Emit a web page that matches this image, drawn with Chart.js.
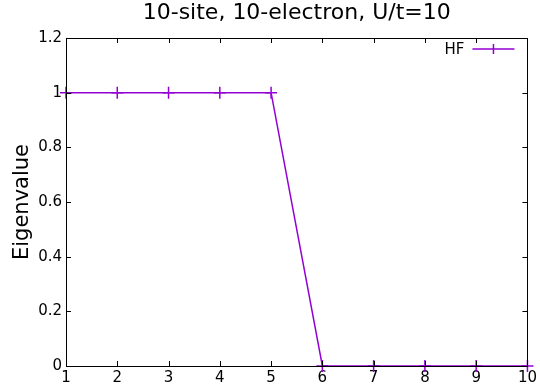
<!DOCTYPE html>
<html><head><meta charset="utf-8">
<script src="https://cdn.jsdelivr.net/npm/chart.js@4/dist/chart.umd.min.js"></script>
<style>html,body{margin:0;padding:0;background:#fff}#w{width:540px;height:391px}</style>
</head><body><div id="w"><canvas id="c" width="540" height="391"></canvas></div>
<script>
const sites = [1,2,3,4,5,6,7,8,9,10];
const hfValues = [1,1,1,1,1,0,0,0,0,0];
const yTicks = [0,0.2,0.4,0.6,0.8,1,1.2];
const seriesLabel = 'HF';
const titleText = '10-site, 10-electron, U/t=10';
const yTitle = 'Eigenvalue';
const color = '#9400d3';
const FONT = "'DejaVu Sans', sans-serif";

const frame = {
  id:'frame',
  afterDraw(chart){
    const {ctx, chartArea:a, scales:{x,y}} = chart;
    ctx.save();
    ctx.strokeStyle='#000'; ctx.lineWidth=1;
    ctx.strokeRect(Math.round(a.left)+0.5, Math.round(a.top)+0.5, Math.round(a.right-a.left), Math.round(a.bottom-a.top));
    ctx.beginPath();
    sites.forEach(v=>{const p=Math.round(x.getPixelForValue(v))+0.5;
      ctx.moveTo(p,a.bottom); ctx.lineTo(p,a.bottom-5);
      ctx.moveTo(p,a.top); ctx.lineTo(p,a.top+5);});
    yTicks.forEach(v=>{const p=Math.round(y.getPixelForValue(v))+0.5;
      ctx.moveTo(a.left,p); ctx.lineTo(a.left+5,p);
      ctx.moveTo(a.right,p); ctx.lineTo(a.right-5,p);});
    ctx.stroke();
    // legend
    const ly = a.top+11, lx1 = a.right-55, lx2 = a.right-13;
    ctx.fillStyle='#000'; ctx.font='15px '+FONT; ctx.textAlign='right'; ctx.textBaseline='middle';
    ctx.fillText(chart.data.datasets[0].label, lx1-8, ly+1);
    ctx.strokeStyle=color; ctx.lineWidth=1.5;
    ctx.beginPath(); ctx.moveTo(lx1,ly); ctx.lineTo(lx2,ly);
    const mx=(lx1+lx2)/2; ctx.moveTo(mx-5,ly); ctx.lineTo(mx+5,ly); ctx.moveTo(mx,ly-5); ctx.lineTo(mx,ly+5);
    ctx.stroke();
    ctx.restore();
  }
};

new Chart(document.getElementById('c'), {
  type:'line',
  data:{datasets:[{label:seriesLabel, data:sites.map((s,i)=>({x:s,y:hfValues[i]})),
    borderColor:color, backgroundColor:color, borderWidth:1.5, pointStyle:'cross', pointRadius:6,
    pointBorderWidth:1.5, pointBorderColor:color, tension:0, clip:false}]},
  options:{
    responsive:false, animation:false,
    layout:{padding:{right:10,left:0,top:0,bottom:0}},
    plugins:{
      legend:{display:false}, tooltip:{enabled:false},
      title:{display:true, fullSize:false, text:titleText, color:'#000', font:{family:FONT,size:22,weight:'normal',lineHeight:1.2}, padding:{top:0,bottom:11.6}}
    },
    scales:{
      x:{type:'linear', min:1, max:10, afterFit(s){s.height=25;},
        afterBuildTicks(s){s.ticks=sites.map(v=>({value:v}));},
        grid:{display:false, drawTicks:false}, border:{display:false},
        ticks:{color:'#000', font:{family:FONT,size:15}, padding:3, maxRotation:0, autoSkip:false}},
      y:{type:'linear', min:0, max:1.2, afterFit(s){s.width=66;},
        afterBuildTicks(s){s.ticks=yTicks.map(v=>({value:v}));},
        grid:{display:false, drawTicks:false}, border:{display:false},
        ticks:{color:'#000', font:{family:FONT,size:15}, padding:4, callback:v=>String(+v.toFixed(1))},
        title:{display:true, text:yTitle, color:'#000', font:{family:FONT,size:21}, padding:{top:10,bottom:0}}}
    }
  },
  plugins:[frame]
});
</script></body></html>
